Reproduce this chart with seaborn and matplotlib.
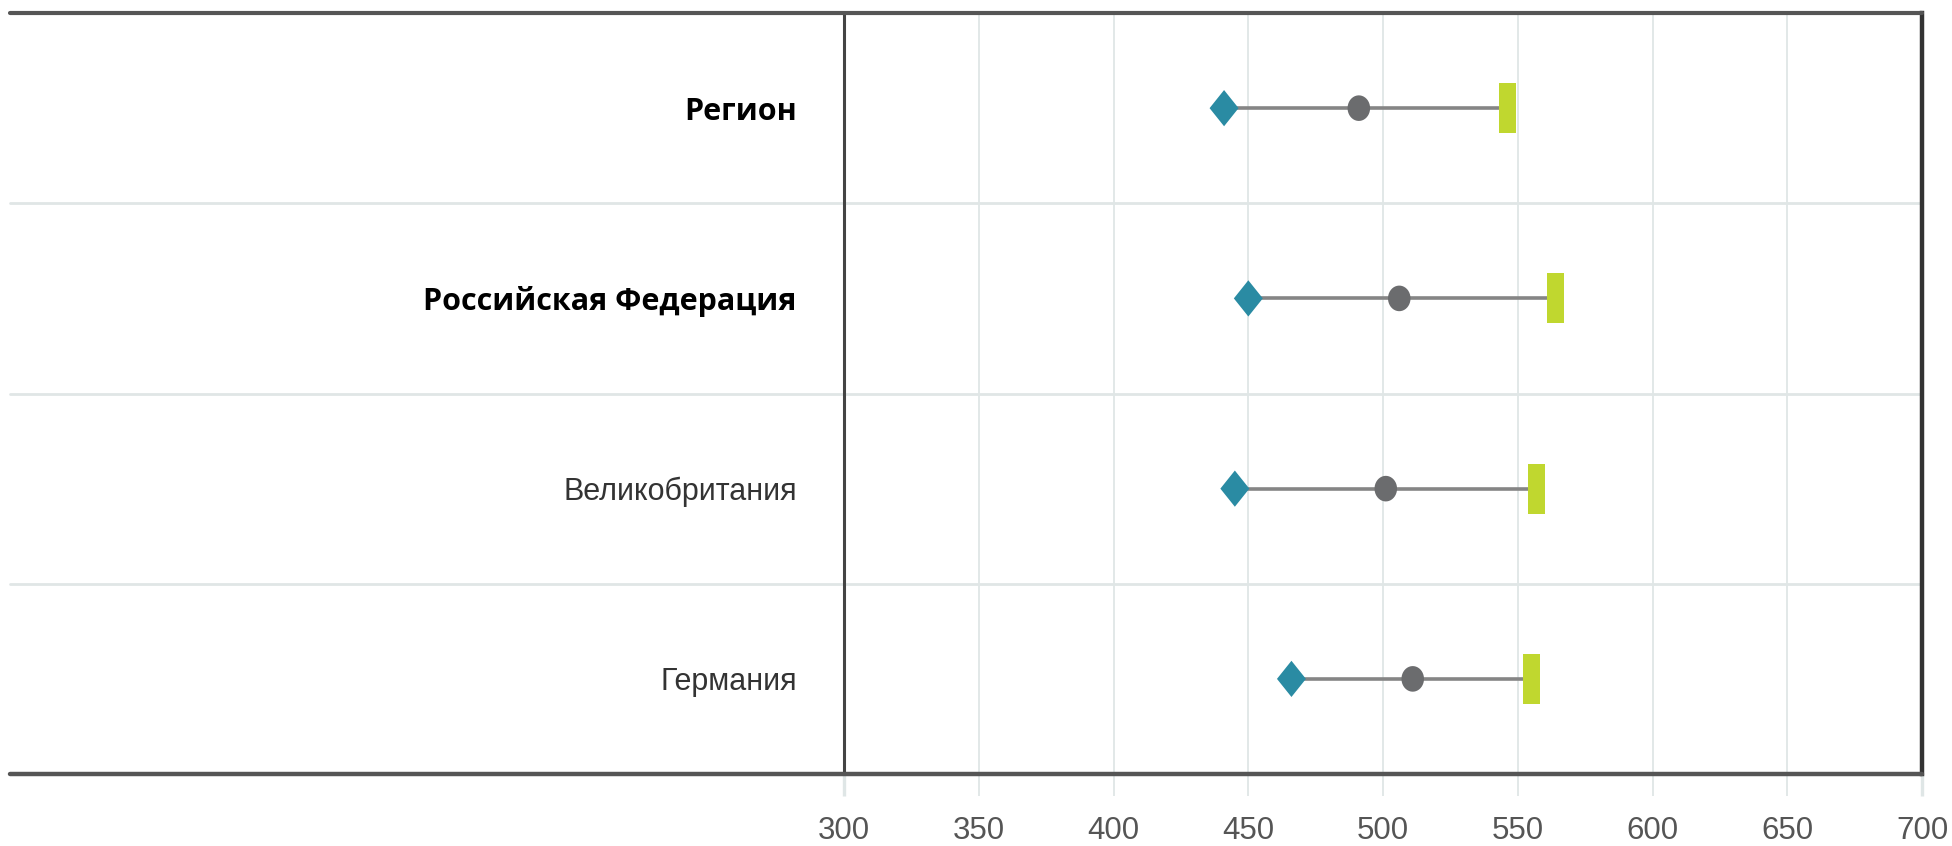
import numpy as np
import pandas as pd
import seaborn as sns
import matplotlib.pyplot as plt

# values
categories = ['Регион', 'Российская Федерация', 'Великобритания', 'Германия']
low_vals = [441, 450, 445, 466]
mid_vals = [491, 506, 501, 511]
high_vals = [546, 564, 557, 555]
x_ticks = [300, 350, 400, 450, 500, 550, 600, 650, 700]

sns.set_style("white")
plt.rcParams['font.family'] = ['Liberation Sans Narrow', 'Liberation Sans', 'DejaVu Sans']

df = pd.DataFrame({
    'cat': categories,
    'pos': np.arange(len(categories)),
    'low': low_vals,
    'mid': mid_vals,
    'high': high_vals,
})

# marker shapes (slightly taller than wide, like the source)
diamond = [(0, 1), (0.8, 0), (0, -1), (-0.8, 0), (0, 1)]
t = np.linspace(0, 2 * np.pi, 40)
ellipse = list(zip(0.88 * np.cos(t), np.sin(t)))
bar = [(-0.34, -1), (0.34, -1), (0.34, 1), (-0.34, 1), (-0.34, -1)]

fig = plt.figure(figsize=(19.52, 8.46), dpi=100)
ax = fig.add_axes([0.4324, 0.0851, 0.5523, 0.8995])

ax.hlines(df['pos'], df['low'], df['high'], color='#858585', lw=2.6, zorder=2)
sns.scatterplot(data=df, x='low', y='pos', marker=diamond, s=680, color='#2a8ba3',
                edgecolor='none', ax=ax, zorder=3)
sns.scatterplot(data=df, x='mid', y='pos', marker=ellipse, s=340, color='#6b6c6e',
                edgecolor='none', ax=ax, zorder=3)
sns.scatterplot(data=df, x='high', y='pos', marker=bar, s=1300, color='#c0d72f',
                edgecolor='none', ax=ax, zorder=3)

ax.set_xlim(300, 700)
ax.set_ylim(len(categories) - 0.5, -0.5)
ax.set_xlabel('')
ax.set_ylabel('')

# vertical grid, ticks hang below the bottom rule
ax.set_xticks(x_ticks)
ax.set_xticklabels([str(v) for v in x_ticks])
ax.grid(axis='x', color='#dfe6e6', lw=1.3)
ax.set_axisbelow(True)
ax.tick_params(axis='x', bottom=True, direction='out', length=16, width=1.3,
               color='#dfe6e6', pad=14, labelsize=22.5, labelcolor='#555555')
for i in (0, -1):
    tk = ax.xaxis.get_major_ticks()[i]
    tk.tick1line.set_color('#444444')
    tk.tick1line.set_markeredgewidth(2.4)

# category labels
ax.set_yticks(df['pos'])
ax.set_yticklabels(categories)
ax.tick_params(axis='y', left=False, length=0, pad=34)
for i, lab in enumerate(ax.get_yticklabels()):
    if i < 2:
        lab.set_fontfamily(['Open Sans', 'DejaVu Sans'])
        lab.set_fontweight('bold')
        lab.set_fontsize(22)
        lab.set_color('black')
    else:
        lab.set_fontsize(22)
        lab.set_color('#333333')

# frame: left/right spines, long top/bottom rules and row separators
for side in ('top', 'bottom'):
    ax.spines[side].set_visible(False)
ax.spines['left'].set_color('#444444')
ax.spines['left'].set_linewidth(2.2)
ax.spines['right'].set_color('#333333')
ax.spines['right'].set_linewidth(3.2)

x_left = -0.7737
for y in np.arange(0.5, len(categories) - 1, 1.0):
    ax.axhline(y, xmin=x_left, xmax=1, color='#e0e6e6', lw=2, clip_on=False, zorder=1)
ax.axhline(-0.5, xmin=x_left, xmax=1, color='#555555', lw=3, clip_on=False, zorder=4)
ax.axhline(len(categories) - 0.5, xmin=x_left, xmax=1, color='#555555', lw=3.2,
           clip_on=False, zorder=4)

fig.savefig('out.png', dpi=100, facecolor='white')
